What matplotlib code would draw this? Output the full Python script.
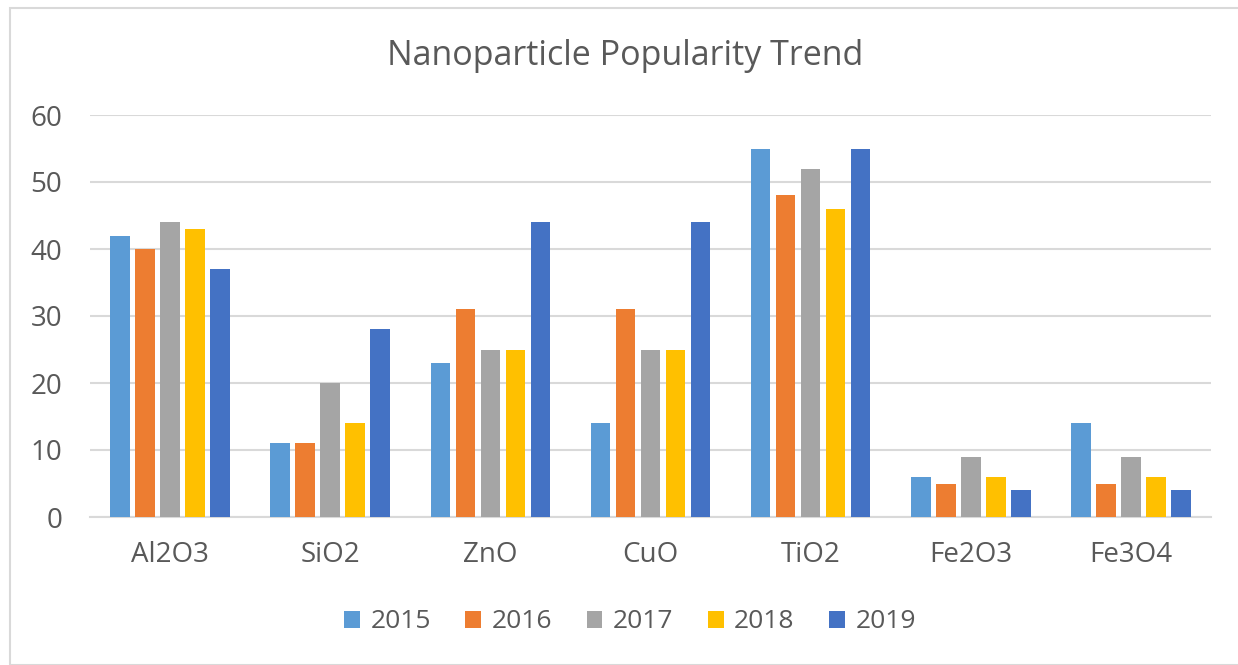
import numpy as np
import matplotlib.pyplot as plt
from matplotlib.patches import Rectangle

plt.rcParams['font.family'] = ['Open Sans', 'DejaVu Sans']

categories = ["Al2O3", "SiO2", "ZnO", "CuO", "TiO2", "Fe2O3", "Fe3O4"]
years = ["2015", "2016", "2017", "2018", "2019"]
v2015 = [42, 11, 23, 14, 55, 6, 14]
v2016 = [40, 11, 31, 31, 48, 5, 5]
v2017 = [44, 20, 25, 25, 52, 9, 9]
v2018 = [43, 14, 25, 25, 46, 6, 6]
v2019 = [37, 28, 44, 44, 55, 4, 4]
series = [v2015, v2016, v2017, v2018, v2019]
colors = ["#5B9BD5", "#ED7D31", "#A5A5A5", "#FFC000", "#4472C4"]

fig = plt.figure(figsize=(12.38, 6.65), dpi=100)
# outer chart frame
fig.patches.append(Rectangle((10 / 1238, 0), 1.0, 1 - 8 / 665, transform=fig.transFigure,
                             fill=False, edgecolor="#D9D9D9", linewidth=1.5))

ax = fig.add_axes([90 / 1238, 1 - 517 / 665, 1121 / 1238, 402 / 665])

x = np.arange(len(categories))
pitch = 0.156
for i, (vals, c, y) in enumerate(zip(series, colors, years)):
    ax.bar(x + (i - 2) * pitch, vals, width=0.122, color=c, label=y, zorder=3)

ax.set_xlim(-0.5, len(categories) - 0.5)
ax.set_ylim(0, 60)
ax.set_yticks(range(0, 61, 10))
ax.yaxis.grid(True, color="#D9D9D9", linewidth=1.5, zorder=0)
ax.set_xticks(x)
ax.set_xticklabels(categories)
ax.tick_params(axis="both", length=0, labelsize=20, labelcolor="#595959")
ax.tick_params(axis="x", pad=17)
ax.tick_params(axis="y", pad=20)
for s in ["top", "right", "left"]:
    ax.spines[s].set_visible(False)
ax.spines["bottom"].set_color("#D9D9D9")
ax.spines["bottom"].set_linewidth(1.5)

fig.text(625 / 1238, 1 - 56 / 665, "Nanoparticle Popularity Trend", ha="center", va="center",
         fontsize=24.5, color="#595959")

fig.legend(loc="center", bbox_to_anchor=(630 / 1238, 1 - 622 / 665), ncol=5, frameon=False,
           fontsize=19, labelcolor="#595959", handlelength=0.6, handleheight=0.6,
           columnspacing=1.3, handletextpad=0.4)

fig.savefig("out.png", dpi=100)
